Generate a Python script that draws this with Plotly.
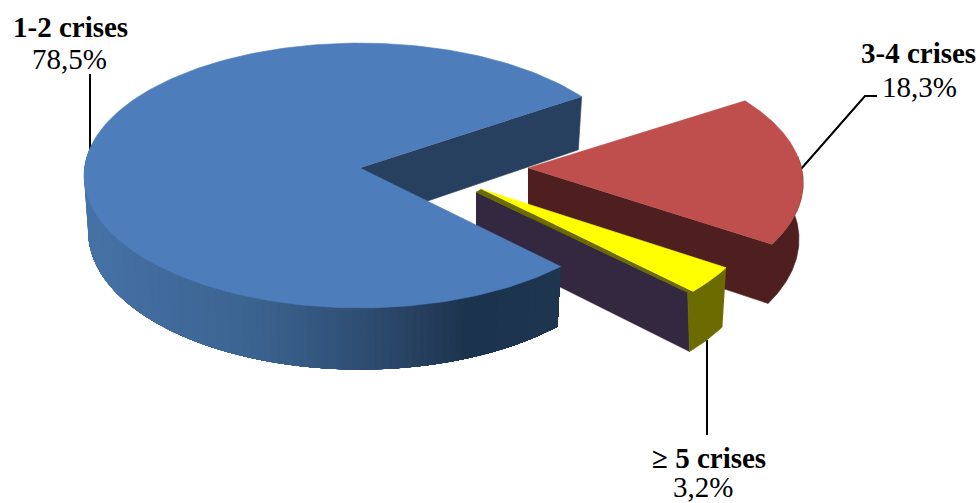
import numpy as np
import plotly.graph_objects as go

# ---- data ----
categories = ["3-4 crises", "≥ 5 crises", "1-2 crises"]
values = [18.3, 3.2, 78.5]

# ---- view model of the tilted, exploded pie (pixels) ----
START_ANGLE = 33.4
RX, RY = 275.5, 132.0
DEPTH, BOTTOM_SX, BOTTOM_SY = 56.0, 0.985, 1.04
APEX = {"3-4 crises": (528, 168), "≥ 5 crises": (481, 189), "1-2 crises": (360, 168)}
PERSP = {"3-4 crises": 0.11, "≥ 5 crises": 0.119, "1-2 crises": 0.0566}
RIM_SHIFT = {"3-4 crises": -2.0, "≥ 5 crises": 0.0, "1-2 crises": 0.0}
NUDGE = {"3-4 crises": (-0.5, -0.5), "≥ 5 crises": (-1.35, -1.3), "1-2 crises": (-1.7, 0.5)}

TOP = {"3-4 crises": "#be4f4c", "≥ 5 crises": "#ffff00", "1-2 crises": "#4d7ebb"}
WALL_RED, WALL_NAVY, WALL_PURPLE, OLIVE = "#4f1f1f", "#27405f", "#332840", "#6b6b00"
GRAD_X = [88, 250, 330, 420, 470, 560]
GRAD_R = [0x46, 0x3c, 0x33, 0x27, 0x1c, 0x1f]
GRAD_G = [0x72, 0x64, 0x55, 0x40, 0x33, 0x36]
GRAD_B = [0xa6, 0x91, 0x7c, 0x5f, 0x4d, 0x50]

LABEL_FONT = "Liberation Serif"
LABEL_SIZE = 29
LABELS = {"1-2 crises": (70, 27, 69.5, 59),
          "3-4 crises": (918, 53, 919, 87),
          "≥ 5 crises": (709, 458, 703, 487)}
LEADERS = [([90, 90], [74, 150]),
           ([801, 865, 877], [169, 96, 96]),
           ([707, 707], [340, 435])]

# angle range of each slice, clockwise, from the values
fractions = np.array(values) / sum(values) * 360
ends = START_ANGLE - np.cumsum(fractions)
starts = ends + fractions
RANGE = {c: (s + NUDGE[c][0], e + NUDGE[c][1]) for c, s, e in zip(categories, starts, ends)}


def rim(cat, theta, low=False):
    t = np.radians(np.asarray(theta, dtype=float))
    u, v = np.cos(t), np.sin(t)
    w = 1 + PERSP[cat] * v
    dx, dy = RX * u / w, -RY * v / w
    ax, ay = APEX[cat]
    ax = ax + RIM_SHIFT[cat]
    if low:
        return ax + BOTTOM_SX * dx, ay + DEPTH + BOTTOM_SY * dy
    return ax + dx, ay + dy


def apex_low(cat):
    ax, ay = APEX[cat]
    return ax, ay + DEPTH


fig = go.Figure()


def poly(xs, ys, color, lw=0.6):
    fig.add_trace(go.Scatter(x=list(xs), y=list(ys), mode="lines", fill="toself", fillcolor=color,
                             line=dict(color=color, width=lw), hoverinfo="skip", showlegend=False))


def wedge(cat):
    a, b = RANGE[cat]
    x, y = rim(cat, np.linspace(a, b, 240))
    ax, ay = APEX[cat]
    poly(np.r_[ax, x], np.r_[ay, y], TOP[cat])


def flat_wall(cat, theta, color, top_off=(0, 0, 0)):
    """Inner radial wall from apex to the rim point at theta."""
    ax, ay = APEX[cat]
    rx, ry = rim(cat, theta)
    rlx, rly = rim(cat, theta, low=True)
    alx, aly = apex_low(cat)
    ox, oy0, oy1 = top_off
    poly([ax + ox, rx + ox, rlx, alx + ox], [ay + oy0, ry + oy1, rly, aly], color)


c_blue, c_red, c_yel = "1-2 crises", "3-4 crises", "≥ 5 crises"

# leader lines sit behind the pie
for lx, ly in LEADERS:
    fig.add_trace(go.Scatter(x=lx, y=ly, mode="lines", line=dict(color="black", width=2),
                             hoverinfo="skip", showlegend=False))

# blue inner wall (upper radial edge)
blue_end = RANGE[c_blue][1] + 360
flat_wall(c_blue, blue_end, WALL_NAVY)

# red slice: inner and outer wall as one outline, so no seam shows between them
ra, rb = RANGE[c_red]
t_r = np.linspace(rb, min(ra, 5), 80)
rx_top, ry_top = rim(c_red, t_r)
rx_low, ry_low = rim(c_red, t_r, low=True)
rax, ray = APEX[c_red]
ralx, raly = apex_low(c_red)
poly(np.r_[rax, rx_top, rx_low[::-1], ralx], np.r_[ray, ry_top, ry_low[::-1], raly], WALL_RED)
wedge(c_red)

# yellow slice
ya, yb = RANGE[c_yel]
yx, yy = rim(c_yel, yb)
yax, yay = APEX[c_yel]
flat_wall(c_yel, yb, WALL_PURPLE, top_off=(-5, 3, 1))
poly([yax, yx, yx - 5, yax - 5], [yay, yy, yy + 1, yay + 3], OLIVE)
t_y = np.linspace(ya, yb, 30)
tx, ty = rim(c_yel, t_y)
txl, tyl = rim(c_yel, t_y, low=True)
poly(np.r_[tx, yx - 5, txl[::-1]], np.r_[ty, yy + 1, tyl[::-1]], OLIVE)
wedge(c_yel)

# blue outer wall with its left-to-right shading: painted from the left end
# towards the slice start, each band running on under the next so no seams show
ba = RANGE[c_blue][0]
edges = np.arange(-192, ba, 1.5)
for t0 in edges:
    t = np.linspace(t0, ba, 60)
    x, y = rim(c_blue, t)
    xl, yl = rim(c_blue, t, low=True)
    mx = float(rim(c_blue, t0 + 0.75)[0])
    col = "rgb(%d,%d,%d)" % (np.interp(mx, GRAD_X, GRAD_R), np.interp(mx, GRAD_X, GRAD_G), np.interp(mx, GRAD_X, GRAD_B))
    poly(np.r_[x, xl[::-1]], np.r_[y, yl[::-1]], col, lw=0)
wedge(c_blue)

annotations = []
for cat, val in zip(categories, values):
    nx, ny, vx, vy = LABELS[cat]
    annotations.append(dict(x=nx, y=ny, text=f"<b>{cat}</b>", showarrow=False, xanchor="center", yanchor="middle",
                            font=dict(family=LABEL_FONT, size=LABEL_SIZE, color="black")))
    annotations.append(dict(x=vx, y=vy, text=f"{val:.1f}%".replace(".", ","), showarrow=False, xanchor="center",
                            yanchor="middle", font=dict(family=LABEL_FONT, size=LABEL_SIZE, color="black")))

fig.update_layout(width=979, height=503, margin=dict(l=0, r=0, t=0, b=0), autosize=False,
                  paper_bgcolor="white", plot_bgcolor="white", showlegend=False, annotations=annotations,
                  xaxis=dict(range=[0, 979], visible=False, fixedrange=True),
                  yaxis=dict(range=[503, 0], visible=False, fixedrange=True))
fig.write_html("out.html", config=dict(displayModeBar=False),
               post_script="document.body.style.margin='0';document.documentElement.style.overflow='hidden';")
